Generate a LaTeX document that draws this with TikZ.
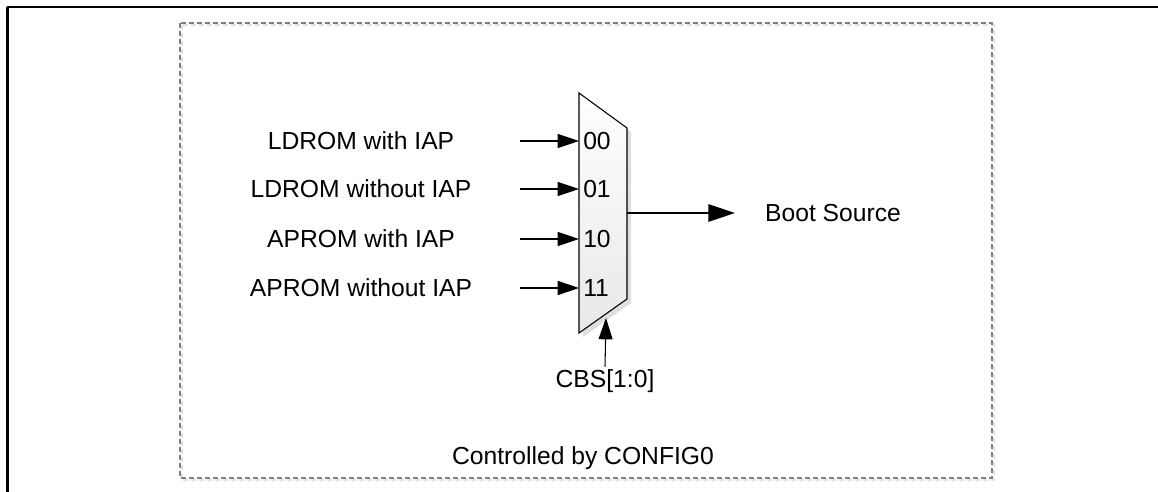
\documentclass[tikz,border=0pt]{standalone}
\usepackage{fontspec}
\setmainfont{Liberation Sans}
\usetikzlibrary{arrows.meta}
\usetikzlibrary{positioning}
\usetikzlibrary{shadows}
\definecolor{frame}{RGB}{128,128,128}
\definecolor{muxgray}{RGB}{232,232,232}

\begin{document}
\begin{tikzpicture}[x=0.75pt,y=-0.75pt,
  font=\fontsize{18.5}{22}\selectfont,
  lbl/.style={inner sep=2pt},
  portlbl/.style={inner sep=0pt,anchor=west},
  sig/.style={line width=0.8pt,-{Triangle[length=16pt,width=10.5pt]}},
  outsig/.style={line width=1.6pt,-{Triangle[length=20pt,width=13pt]}},
  cfgbox/.style={frame,line width=0.8pt,dash pattern=on 3.75pt off 2.25pt},
  cfgshadow/.style={black!12,line width=0.8pt,dash pattern=on 3.75pt off 2.25pt}]
\useasboundingbox (0,0) rectangle (1158,492);

% page frame
\draw[line width=1.6pt] (1158,7) -- (7,7);
\draw[line width=2.25pt] (7,7) -- (7,492);

% config box
\coordinate (F1) at (180,23);
\coordinate (F2) at (992,478);
\draw[cfgshadow] ([shift={(2,2)}]F1) rectangle ([shift={(2,2)}]F2);
\draw[cfgbox] (F1) rectangle (F2);
\node[lbl] (cfg) at (583,458) {Controlled by CONFIG0};

% mux
\coordinate (M1) at (579,93);
\coordinate (M2) at (627,128);
\coordinate (M3) at (627,299);
\coordinate (M4) at (579,333);
\path[drop shadow={shadow xshift=3pt,shadow yshift=-3pt,opacity=0.25}]
  (M1) -- (M2) -- (M3) -- (M4) -- cycle;
\draw[line width=0.8pt,top color=white,bottom color=muxgray]
  (M1) -- (M2) -- (M3) -- (M4) -- cycle;

\coordinate (in00) at (579,141);
\coordinate (in01) at (579,189);
\coordinate (in10) at (579,239);
\coordinate (in11) at (579,288);
\node[portlbl, right=3pt of in00] (p00) {00};
\node[portlbl, right=3pt of in01] (p01) {01};
\node[portlbl, right=3pt of in10] (p10) {10};
\node[portlbl, right=3pt of in11] (p11) {11};

% inputs
\node[lbl] (ldiap) at (361,141) {LDROM with IAP};
\node[lbl] (ldnoiap) at (361,189) {LDROM without IAP};
\node[lbl] (apiap) at (361,239) {APROM with IAP};
\node[lbl] (apnoiap) at (361,288) {APROM without IAP};
\coordinate (s00) at (520,141);
\coordinate (s01) at (520,189);
\coordinate (s10) at (520,239);
\coordinate (s11) at (520,288);
\draw[sig] (s00) -- (in00);
\draw[sig] (s01) -- (in01);
\draw[sig] (s10) -- (in10);
\draw[sig] (s11) -- (in11);

% output
\coordinate (out) at (627,213);
\coordinate (outend) at (735,213);
\node[lbl] (boot) at (833,213) {Boot Source};
\draw[outsig] (out) -- (outend);

% select
\coordinate (sel) at (606,318);
\node[lbl] (cbs) at (605,381) {CBS[1:0]};
\draw[sig] (cbs.north) -- (sel);

\end{tikzpicture}
\end{document}
